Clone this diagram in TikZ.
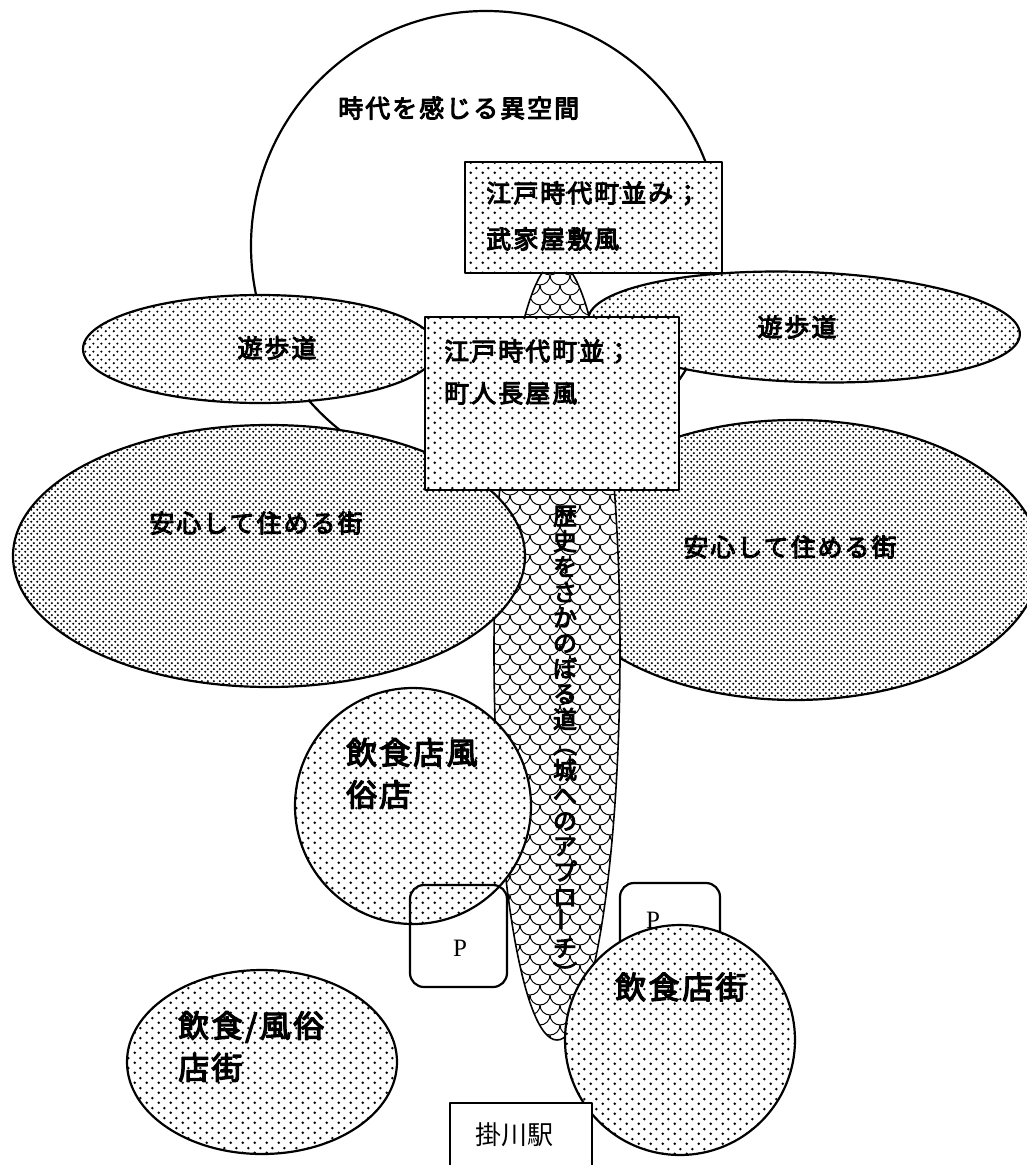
\documentclass[tikz,border=0pt]{standalone}
\usepackage{fontspec}
\setmainfont{Liberation Serif}
\newfontfamily\jpb[FakeBold=4,LetterSpace=8]{Noto Sans CJK JP}
\newfontfamily\jpv[FakeBold=4]{Noto Sans CJK JP}
\newfontfamily\jpr{Noto Sans CJK JP}
\usetikzlibrary{patterns}

\pgfdeclarepatternformonly{dotsA}{\pgfpointorigin}{\pgfpoint{6pt}{6pt}}{\pgfpoint{6pt}{6pt}}{%
  \pgfpathcircle{\pgfpoint{1.5pt}{1.5pt}}{1.35pt}%
  \pgfpathcircle{\pgfpoint{4.5pt}{4.5pt}}{1.35pt}%
  \pgfusepath{fill}}
\pgfdeclarepatternformonly{dotsB}{\pgfpointorigin}{\pgfpoint{8pt}{8pt}}{\pgfpoint{8pt}{8pt}}{%
  \pgfpathcircle{\pgfpoint{2pt}{2pt}}{1.35pt}%
  \pgfpathcircle{\pgfpoint{6pt}{6pt}}{1.35pt}%
  \pgfusepath{fill}}
\pgfdeclarepatternformonly{dotsC}{\pgfpointorigin}{\pgfpoint{12pt}{10pt}}{\pgfpoint{12pt}{10pt}}{%
  \pgfpathcircle{\pgfpoint{3pt}{2.5pt}}{1.5pt}%
  \pgfpathcircle{\pgfpoint{9pt}{7.5pt}}{1.5pt}%
  \pgfusepath{fill}}
\pgfdeclarepatternformonly{scales}{\pgfpoint{-1pt}{-1pt}}{\pgfpoint{21pt}{21pt}}{\pgfpoint{20pt}{20pt}}{%
  \pgfsetlinewidth{1pt}%
  \pgfpathmoveto{\pgfpoint{0pt}{20pt}}\pgfpatharc{180}{360}{10pt}%
  \pgfpathmoveto{\pgfpoint{0pt}{0pt}}\pgfpatharc{270}{360}{10pt}%
  \pgfpatharc{180}{270}{10pt}%
  \pgfusepath{stroke}}

\begin{document}
\begin{tikzpicture}[x=1pt,y=-1pt,line join=round,
  outl/.style={draw=black,line width=2.2pt},
  dense/.style={outl,preaction={fill=white},pattern=dotsA},
  medium/.style={outl,preaction={fill=white},pattern=dotsB},
  sparse/.style={outl,preaction={fill=white},pattern=dotsC},
  scaly/.style={draw=black,line width=1.6pt,preaction={fill=white},pattern=scales},
  lbl/.style={font=\jpb\fontsize{25}{30}\selectfont,inner sep=0pt},
  biglbl/.style={font=\jpb\fontsize{31}{42}\selectfont,inner sep=0pt,align=left},
  plbl/.style={font=\fontsize{25}{25}\selectfont,inner sep=0pt}]
\useasboundingbox (0,0) rectangle (1027,1165);
\clip (0,0) rectangle (1027,1165);

% big circle
\draw[outl,fill=white] (486,246) circle[radius=235];
% right residential ellipse
\draw[dense] (795,560) ellipse[x radius=245,y radius=140];
% road
\draw[scaly] (557,651) ellipse[x radius=63,y radius=389];
% left residential ellipse
\draw[dense] (269,556) ellipse[x radius=256,y radius=131];
% promenades
\draw[medium] (260,349) ellipse[x radius=177,y radius=54];
\draw[medium,rotate around={-2:(804,327)}] (804,327) ellipse[x radius=216,y radius=55];
% boxes
\draw[sparse] (465,162) rectangle (722,273);
\draw[sparse] (425,317) rectangle (679,490);
% restaurant circle
\draw[sparse] (413,806) circle[radius=118];
% parking
\draw[outl,rounded corners=14pt] (410,885) rectangle (507,987);
\draw[outl,fill=white,rounded corners=14pt] (620,883) rectangle (720,990);
% restaurant street circle
\draw[sparse] (680,1040) circle[radius=115];
% restaurant / entertainment ellipse
\draw[sparse] (262,1062) ellipse[x radius=135,y radius=92];
% station
\draw[outl,fill=white] (450,1103) rectangle (592,1180);

% texts
\node[lbl,anchor=west] (tcirc) at (338,108) {時代を感じる異空間};
\node[lbl,anchor=west,align=left,font=\jpb\fontsize{25}{46}\selectfont] (tbox1) at (486,216) {江戸時代町並み；\\武家屋敷風};
\node[lbl,anchor=west,align=left,font=\jpb\fontsize{25}{42}\selectfont] (tbox2) at (444,372) {江戸時代町並；\\町人長屋風};
\node[lbl] (tpromL) at (277,348) {遊歩道};
\node[lbl] (tpromR) at (797,327) {遊歩道};
\node[lbl] (tresL) at (256,523) {安心して住める街};
\node[lbl] (tresR) at (790,547) {安心して住める街};
\node[inner sep=0pt,align=center,font=\jpv\fontsize{24}{25.4}\selectfont] (troad) at (565,744)
  {歴\\史\\を\\さ\\か\\の\\ぼ\\る\\道\\︵\\城\\へ\\の\\ア\\プ\\ロ\\\rotatebox{90}{ー}\\チ\\︶};
\node[biglbl,anchor=north west] (tfood1) at (346,738) {飲食店風\\俗店};
\node[plbl] (tpL) at (460,948) {P};
\node[plbl] (tpR) at (653,920) {P};
\node[biglbl,anchor=west] (tfood2) at (615,987) {飲食店街};
\node[biglbl,anchor=north west] (tfood3) at (178,1011) {飲食/風俗\\店街};
\node[inner sep=0pt,font=\jpr\fontsize{26}{26}\selectfont] (tsta) at (514,1135) {掛川駅};
\end{tikzpicture}
\end{document}
